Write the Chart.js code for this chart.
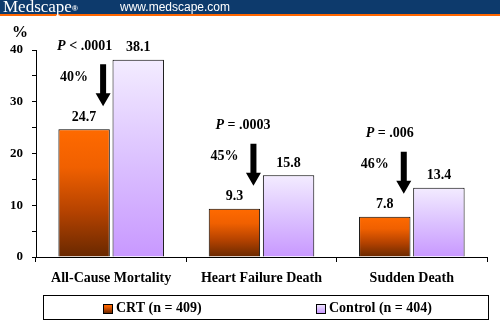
<!DOCTYPE html>
<html>
<head>
<meta charset="utf-8">
<script src="https://cdn.jsdelivr.net/npm/chart.js@4"></script>
<style>
  html, body { margin: 0; padding: 0; background: #fff; }
  canvas { display: block; }
</style>
</head>
<body>
<canvas id="chart" width="500" height="328"></canvas>
<script>
// chart data
const categories = ['All-Cause Mortality', 'Heart Failure Death', 'Sudden Death'];
const crtValues = [24.7, 9.3, 7.8];
const controlValues = [38.1, 15.8, 13.4];
const seriesLabels = ['CRT (n = 409)', 'Control (n = 404)'];
const pValues = ['< .0001', '= .0003', '= .006'];
const reductions = ['40%', '45%', '46%'];
const yTicks = [0, 10, 20, 30, 40];

const SERIF = '"Liberation Serif", "Times New Roman", serif';

// vertical gradient for each bar, from its top down to the axis
function barGradient(context, stops) {
  const chart = context.chart;
  const area = chart.chartArea;
  if (!area) return stops[stops.length - 1][1];
  const yScale = chart.scales.y;
  const v = context.raw || 0;
  const y0 = yScale.getPixelForValue(v);
  const y1 = yScale.getPixelForValue(0);
  const g = chart.ctx.createLinearGradient(0, y0, 0, y1);
  stops.forEach(s => g.addColorStop(s[0], s[1]));
  return g;
}

const crtStops = [[0, '#ff6a00'], [0.3, '#f06000'], [0.65, '#b44200'], [1, '#682800']];
const controlStops = [[0, '#f3ecff'], [0.5, '#dcc2ff'], [1, '#c898ff']];

const decorations = {
  id: 'decorations',
  beforeDraw(chart) {
    const ctx = chart.ctx;
    ctx.save();
    ctx.fillStyle = '#fff';
    ctx.fillRect(0, 0, chart.width, chart.height);
    // header bar
    ctx.fillStyle = '#0d3a6c';
    ctx.fillRect(0, 0, chart.width, 14);
    ctx.fillStyle = '#ff6600';
    ctx.fillRect(0, 14, chart.width, 2);
    ctx.fillStyle = '#fff';
    ctx.textBaseline = 'middle';
    ctx.font = '17px ' + SERIF;
    ctx.fillText('Medscape', 3, 7.5);
    const w = ctx.measureText('Medscape').width;
    ctx.font = 'bold 8px "Liberation Sans", Arial, sans-serif';
    ctx.fillText('®', 3 + w, 8.5);
    ctx.font = '12px "Liberation Sans", Arial, sans-serif';
    ctx.fillText('www.medscape.com', 120, 7.5);
    ctx.restore();
  },
  afterDatasetsDraw(chart) {
    const ctx = chart.ctx;
    const crtMeta = chart.getDatasetMeta(0);
    const ctlMeta = chart.getDatasetMeta(1);
    ctx.save();
    ctx.fillStyle = '#000';
    ctx.textBaseline = 'middle';
    ctx.textAlign = 'center';
    ctx.font = 'bold 14px ' + SERIF;

    // value labels
    [crtMeta, ctlMeta].forEach((meta, d) => {
      meta.data.forEach((bar, i) => {
        const v = chart.data.datasets[d].data[i];
        ctx.fillText(v.toFixed(1), bar.x, bar.y - 12);
      });
    });

    // arrows, reductions and p values
    crtMeta.data.forEach((bar, i) => {
      const ax = bar.x + 19;
      const tip = bar.y - 23;
      const top = tip - 42;
      const headStart = tip - 13;
      ctx.beginPath();
      ctx.rect(ax - 3, top, 6, headStart - top);
      ctx.moveTo(ax - 7.5, headStart);
      ctx.lineTo(ax + 7.5, headStart);
      ctx.lineTo(ax, tip);
      ctx.closePath();
      ctx.fill();

      ctx.textAlign = 'center';
      ctx.font = 'bold 14px ' + SERIF;
      ctx.fillText(reductions[i], ax - 29, top + 13);

      // "P" in italic, rest upright
      ctx.textAlign = 'left';
      const py = top - 18;
      const px = bar.x + (i === 0 ? -27 : -19);
      ctx.font = 'bold italic 14px ' + SERIF;
      ctx.fillText('P', px, py);
      const pw = ctx.measureText('P ').width;
      ctx.font = 'bold 14px ' + SERIF;
      ctx.fillText(pValues[i], px + pw, py);
    });

    // "%" axis title
    ctx.textAlign = 'left';
    ctx.font = 'bold 16px ' + SERIF;
    ctx.fillText('%', 12, 33);
    ctx.restore();
  },
  afterDraw(chart) {
    // boxed legend under the axis
    const ctx = chart.ctx;
    ctx.save();
    ctx.strokeStyle = '#000';
    ctx.lineWidth = 1;
    ctx.strokeRect(43.5, 295.5, 445, 24);
    const items = [
      { x: 103, stops: crtStops },
      { x: 316, stops: controlStops }
    ];
    ctx.font = 'bold 14px ' + SERIF;
    ctx.textBaseline = 'middle';
    items.forEach((it, i) => {
      const g = ctx.createLinearGradient(0, 304, 0, 313);
      it.stops.forEach(s => g.addColorStop(s[0], s[1]));
      ctx.fillStyle = g;
      ctx.fillRect(it.x, 304, 9, 9);
      ctx.strokeRect(it.x + 0.5, 304.5, 9, 9);
      ctx.fillStyle = '#000';
      ctx.fillText(seriesLabels[i], it.x + 13, 308);
    });
    ctx.restore();
  }
};

new Chart(document.getElementById('chart'), {
  type: 'bar',
  data: {
    labels: categories,
    datasets: [
      {
        label: seriesLabels[0],
        data: crtValues,
        backgroundColor: c => barGradient(c, crtStops),
        borderColor: '#000',
        borderWidth: 1
      },
      {
        label: seriesLabels[1],
        data: controlValues,
        backgroundColor: c => barGradient(c, controlStops),
        borderColor: '#000',
        borderWidth: 1
      }
    ]
  },
  options: {
    responsive: false,
    animation: false,
    devicePixelRatio: 1,
    layout: { padding: { top: 50, right: 13, bottom: 0, left: 0 } },
    datasets: { bar: { categoryPercentage: 0.72, barPercentage: 0.95 } },
    plugins: {
      legend: { display: false },
      tooltip: { enabled: false }
    },
    scales: {
      x: {
        afterFit: s => { s.height = 71; },
        grid: { drawOnChartArea: false, color: '#000', tickLength: 5, offset: true },
        border: { color: '#000', width: 1 },
        ticks: { color: '#000', padding: 8, font: { family: SERIF, size: 14, weight: 'bold' } }
      },
      y: {
        min: 0,
        max: 40,
        afterFit: s => { s.width = 36; },
        afterBuildTicks: s => {
          const t = [];
          for (let v = 0; v <= 40; v += 5) t.push({ value: v });
          s.ticks = t;
        },
        grid: { drawOnChartArea: false, color: '#000', tickLength: 4 },
        border: { color: '#000', width: 1 },
        ticks: {
          color: '#000',
          padding: 9,
          font: { family: SERIF, size: 13, weight: 'bold' },
          callback: v => yTicks.includes(v) ? String(v) : ''
        }
      }
    }
  },
  plugins: [decorations]
});
</script>
</body>
</html>
